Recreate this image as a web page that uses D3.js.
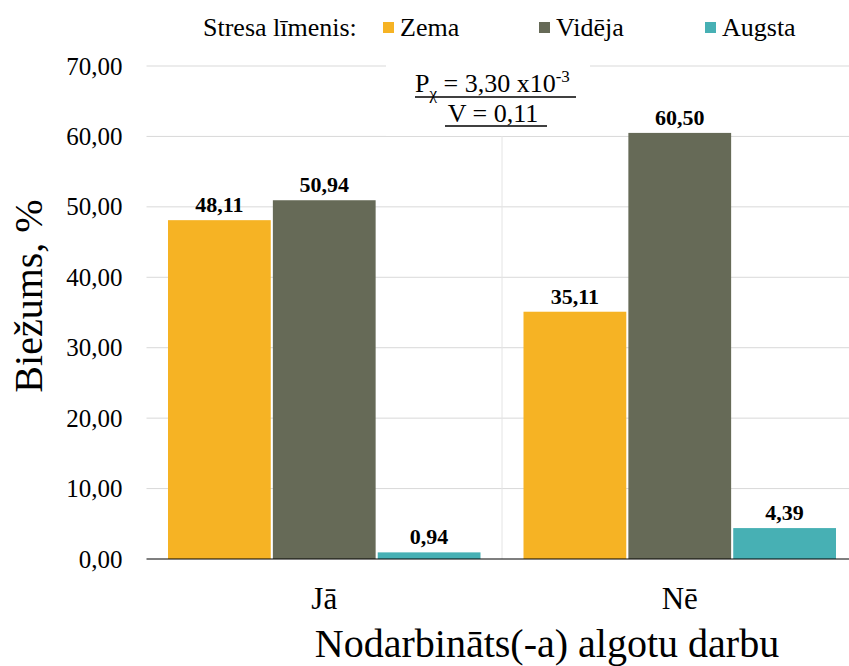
<!DOCTYPE html>
<html><head><meta charset="utf-8">
<script src="https://cdn.jsdelivr.net/npm/d3@7"></script>
<style>body{margin:0;background:#fff}svg{display:block}</style>
</head><body>
<script>
const categories = ["Jā", "Nē"];
const seriesNames = ["Zema", "Vidēja", "Augsta"];
const zema = [48.11, 35.11];
const videja = [50.94, 60.50];
const augsta = [0.94, 4.39];
const yTicks = [0, 10, 20, 30, 40, 50, 60, 70];
const colors = ["#F6B324", "#666A57", "#47B0B4"];

const FONT = "'Liberation Serif', 'Times New Roman', serif";
const W = 849, H = 666;
const svg = d3.select("body").append("svg").attr("width", W).attr("height", H)
  .style("font-family", FONT);
const m = {left: 146.5, right: -8.5, top: 66, bottom: 107};
const x0 = d3.scaleBand().domain(categories).range([m.left, W - m.right]).paddingInner(0).paddingOuter(0);
const y = d3.scaleLinear().domain([0, 70]).range([H - m.bottom, m.top]);
const groupPad = 21.5;
const x1 = d3.scaleBand().domain(seriesNames).range([groupPad, x0.bandwidth() - groupPad]).paddingInner(0.02);

const fmt = v => d3.format(".2f")(v).replace(".", ",");

// gridlines
svg.append("g").selectAll("line").data(yTicks.filter(t => t > 0)).join("line")
  .attr("x1", m.left).attr("x2", W).attr("y1", d => y(d)).attr("y2", d => y(d))
  .attr("stroke", "#D9D9D9").attr("stroke-width", 1);
// category separator
svg.append("line").attr("x1", x0("Nē")).attr("x2", x0("Nē")).attr("y1", y(70)).attr("y2", y(0))
  .attr("stroke", "#E4E4E4").attr("stroke-width", 1);

// y axis labels
const yAxis = d3.axisLeft(y).tickValues(yTicks).tickFormat(fmt).tickSize(0).tickPadding(24);
const ya = svg.append("g").attr("transform", `translate(${m.left},0)`).call(yAxis);
ya.select(".domain").remove();
ya.attr("font-family", null).attr("font-size", null);
ya.selectAll("text").style("font-family", FONT).style("font-size", "25px").attr("fill", "#000");

// bars
const data = categories.map((c, i) => ({cat: c, vals: [zema[i], videja[i], augsta[i]]}));
const g = svg.append("g").selectAll("g").data(data).join("g").attr("transform", d => `translate(${x0(d.cat)},0)`);
g.selectAll("rect").data(d => d.vals.map((v, j) => ({k: seriesNames[j], v, j}))).join("rect")
  .attr("x", d => x1(d.k)).attr("width", x1.bandwidth())
  .attr("y", d => y(d.v)).attr("height", d => y(0) - y(d.v))
  .attr("fill", d => colors[d.j]);
g.selectAll("text.lbl").data(d => d.vals.map((v, j) => ({k: seriesNames[j], v, j}))).join("text")
  .attr("class", "lbl")
  .attr("x", d => x1(d.k) + x1.bandwidth() / 2).attr("y", d => y(d.v) - 8)
  .attr("text-anchor", "middle").style("font-family", FONT).style("font-size", "22px").style("font-weight", "bold").attr("fill", "#000")
  .text(d => fmt(d.v));

// baseline
svg.append("line").attr("x1", m.left).attr("x2", W).attr("y1", y(0)).attr("y2", y(0))
  .attr("stroke", "#000").attr("stroke-width", 1.2);

// x axis labels
const xAxis = d3.axisBottom(x0).tickSize(0).tickPadding(28);
const xa = svg.append("g").attr("transform", `translate(0,${y(0)})`).call(xAxis);
xa.select(".domain").remove();
xa.attr("font-family", null).attr("font-size", null);
xa.selectAll("text").style("font-family", FONT).style("font-size", "31px").attr("fill", "#000");

// axis titles
svg.append("text").attr("x", 547).attr("y", 657).attr("text-anchor", "middle")
  .style("font-family", FONT).style("font-size", "40px").attr("fill", "#000").text("Nodarbināts(-a) algotu darbu");
svg.append("text").attr("transform", `translate(42,296) rotate(-90)`)
  .attr("text-anchor", "middle").style("font-family", FONT).style("font-size", "40px").attr("fill", "#000").text("Biežums, %");

// annotation box
svg.append("rect").attr("x", 386).attr("y", 58).attr("width", 204).attr("height", 78).attr("fill", "#fff");
const ann = svg.append("g").style("font-family", FONT);
const t1 = ann.append("text").attr("x", 415).attr("y", 92).style("font-size", "26px").attr("fill", "#000");
t1.append("tspan").text("P");
t1.append("tspan").style("font-size", "17px").attr("dy", 7).text("χ");
t1.append("tspan").attr("dy", -7).text(" = 3,30 x10");
t1.append("tspan").style("font-size", "17px").attr("dy", -10).text("-3");
ann.append("line").attr("x1", 415).attr("x2", 576).attr("y1", 97).attr("y2", 97).attr("stroke", "#000").attr("stroke-width", 1.4);
ann.append("text").attr("x", 493).attr("y", 122).attr("text-anchor", "middle").style("font-size", "26px").attr("fill", "#000").text("V = 0,11");
ann.append("line").attr("x1", 445).attr("x2", 547).attr("y1", 126).attr("y2", 126).attr("stroke", "#000").attr("stroke-width", 1.4);

// legend
svg.append("text").attr("x", 203).attr("y", 36).style("font-family", FONT).style("font-size", "26px").attr("fill", "#000").text("Stresa līmenis:");
const legX = [383, 539, 705];
const lg = svg.append("g").selectAll("g").data(seriesNames).join("g").attr("transform", (d, i) => `translate(${legX[i]},0)`);
lg.append("rect").attr("x", 0).attr("y", 22).attr("width", 11).attr("height", 11).attr("fill", (d, i) => colors[i]);
lg.append("text").attr("x", 17).attr("y", 36).style("font-family", FONT).style("font-size", "26px").attr("fill", "#000").text(d => d);
</script>
</body></html>
